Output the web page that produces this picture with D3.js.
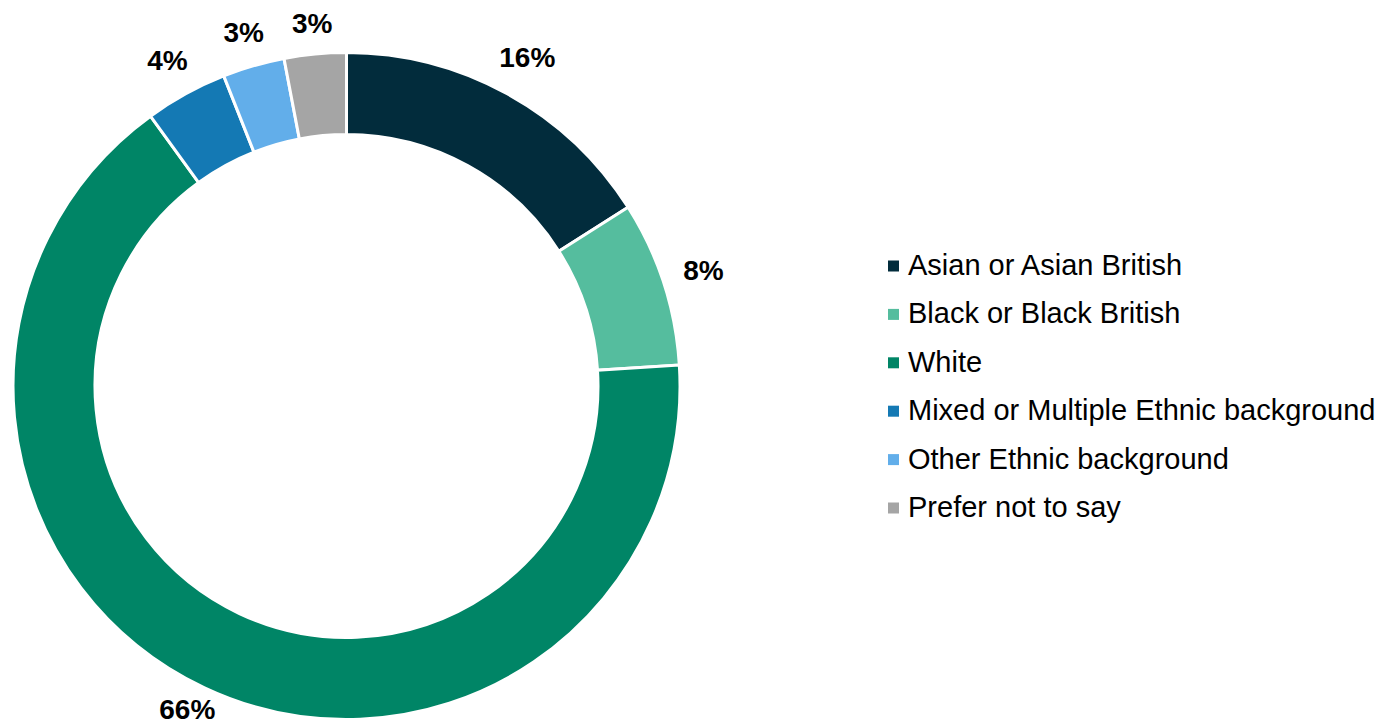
<!DOCTYPE html>
<html>
<head>
<meta charset="utf-8">
<script src="https://cdn.jsdelivr.net/npm/d3@7"></script>
<style>
  html, body { margin: 0; padding: 0; background: #ffffff; }
  svg { display: block; font-family: Arial, "Liberation Sans", sans-serif; }
</style>
</head>
<body>
<svg id="chart" width="1387" height="727"></svg>
<script>
// Ethnic background breakdown (percent)
const categories = [
  "Asian or Asian British",
  "Black or Black British",
  "White",
  "Mixed or Multiple Ethnic background",
  "Other Ethnic background",
  "Prefer not to say"
];
const values = [16, 8, 66, 4, 3, 3];
const colors = ["#022c3c", "#55bd9e", "#008566", "#1479b4", "#62aeea", "#a5a5a5"];

const width = 1387, height = 727;
const cx = 346.5, cy = 386;
const outerR = 333.5, innerR = 251.5;
const sepWidth = 3;

const svg = d3.select("#chart");

const data = categories.map((c, i) => ({ category: c, value: values[i], color: colors[i] }));

const pie = d3.pie().value(d => d.value).sort(null);
const arcs = pie(data);
const arc = d3.arc().innerRadius(innerR).outerRadius(outerR);

const g = svg.append("g").attr("transform", `translate(${cx},${cy})`);

g.selectAll("path.slice")
  .data(arcs)
  .join("path")
  .attr("class", "slice")
  .attr("d", arc)
  .attr("fill", d => d.data.color)
  .attr("stroke", "#ffffff")
  .attr("stroke-width", sepWidth)
  .attr("stroke-linejoin", "miter");

// Data labels placed just outside the ring, pushed out by the label's own extent,
// and kept inside the drawing area (descenders included)
const labelFont = 28;
const gap = 21;
const edgePad = 2;
const labels = g.selectAll("text.lbl")
  .data(arcs)
  .join("text")
  .attr("class", "lbl")
  .attr("font-size", labelFont)
  .attr("font-weight", "bold")
  .attr("fill", "#000000")
  .attr("text-anchor", "middle")
  .text(d => d.data.value + "%");

labels.each(function(d) {
  const bb = this.getBBox();
  const w = bb.width, h = labelFont * 0.716;
  const descent = labelFont * 0.22;
  const a = (d.startAngle + d.endAngle) / 2;
  const s = Math.sin(a), c = Math.cos(a);
  const extent = Math.abs(s) * w / 2 + Math.abs(c) * h / 2;
  const r = outerR - sepWidth / 2 + gap + extent;
  const x = r * s;
  let yBase = -r * c + h / 2;
  const maxBase = height - edgePad - descent - cy;
  const minBase = edgePad + h - cy;
  yBase = Math.max(minBase, Math.min(maxBase, yBase));
  d3.select(this).attr("x", x).attr("y", yBase);
});

// Legend
const legendX = 888, legendY0 = 275, legendStep = 48.4, markerSize = 11;
const legend = svg.append("g").selectAll("g")
  .data(data)
  .join("g")
  .attr("transform", (d, i) => `translate(${legendX},${legendY0 + i * legendStep})`);

legend.append("rect")
  .attr("x", 0)
  .attr("y", -9 - markerSize / 2)
  .attr("width", markerSize)
  .attr("height", markerSize)
  .attr("fill", d => d.color);

legend.append("text")
  .attr("x", 20)
  .attr("y", 0)
  .attr("font-size", 29)
  .attr("fill", "#000000")
  .text(d => d.category);
</script>
</body>
</html>
